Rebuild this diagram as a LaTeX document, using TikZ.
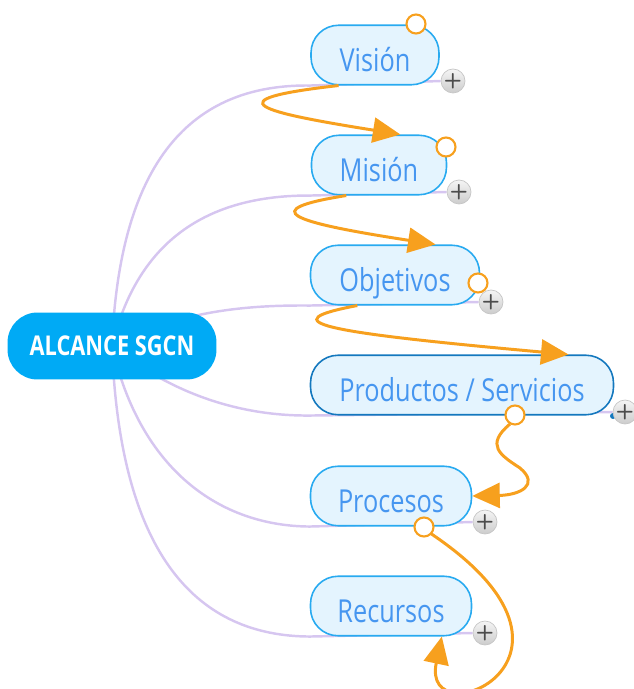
\documentclass[tikz,border=0pt]{standalone}
\usepackage{fontspec}
\setmainfont{Open Sans}
\newfontfamily\topicfont[FakeStretch=0.8]{Open Sans}
\usepackage{tikz}
\usetikzlibrary{shapes,arrows.meta,positioning,backgrounds}

\definecolor{topicfill}{RGB}{228,244,254}
\definecolor{topicline}{RGB}{40,170,240}
\definecolor{topictext}{RGB}{70,150,240}
\definecolor{rootblue}{RGB}{0,170,245}
\definecolor{branchlilac}{RGB}{214,198,240}
\definecolor{relorange}{RGB}{247,160,30}
\definecolor{selline}{RGB}{20,120,190}

\begin{document}
\begin{tikzpicture}[
    x=0.02cm, y=-0.02cm,
    root/.style={rectangle, rounded corners=0.6cm, fill=rootblue, text=white, minimum width=4.18cm, minimum height=1.34cm, align=center, font=\topicfont\fontsize{15.5}{18}\selectfont\bfseries},
    topic/.style={rectangle, rounded corners=0.55cm, draw=topicline, line width=0.9pt, fill=topicfill, text=topictext, minimum height=1.19cm, text height=18.5pt, text depth=0pt, align=center, font=\topicfont\fontsize{18}{21}\selectfont},
    plus/.style={circle, draw=gray!45, top color=gray!8, bottom color=gray!40, minimum size=0.48cm, inner sep=0pt, text=black!70, font=\sffamily\bfseries\large},
    handle/.style={circle, draw=relorange, line width=1.2pt, fill=white, minimum size=0.38cm, inner sep=0pt},
    branch/.style={draw=branchlilac, line width=1.4pt},
    relation/.style={draw=relorange, line width=1.7pt, -{Triangle[length=0.55cm,width=0.5cm]}},
]
    \useasboundingbox (0,0) rectangle (633,689);

    % Central topic
    \node[root] (root) at (112,346) {ALCANCE SGCN};

    % Subtopics
    \node[topic, minimum width=2.56cm] (vision) at (375,55) {Visión};
    \node[topic, minimum width=2.70cm] (mision) at (379,165) {Misión};
    \node[topic, minimum width=3.38cm] (objetivos) at (395,275) {Objetivos};
    \node[topic, minimum width=6.06cm, draw=selline] (productos) at (462,385) {Productos / Servicios};
    \node[topic, minimum width=3.22cm] (procesos) at (391,496) {Procesos};
    \node[topic, minimum width=3.22cm] (recursos) at (391,606) {Recursos};
    \node[circle, fill=selline, minimum size=0.12cm, inner sep=0pt] (seldot) at (613,416) {};

    % Expand buttons
    \node[plus] (pvis) at (453,81) {+};
    \node[plus] (pmis) at (459,192) {+};
    \node[plus] (pobj) at (491,302) {+};
    \node[plus] (pprod) at (625,412) {+};
    \node[plus] (pproc) at (485,522) {+};
    \node[plus] (prec) at (485,633) {+};

    % Branches
    \begin{scope}[on background layer]
    \draw[branch] (root.center) .. controls (120,150) and (200,84) .. (vision.south west) -- (pvis.west);
    \draw[branch] (root.center) .. controls (140,230) and (220,195) .. (mision.south west) -- (pmis.west);
    \draw[branch] (root.center) .. controls (180,310) and (250,305) .. (objetivos.south west) -- (pobj.west);
    \draw[branch] (root.center) .. controls (180,400) and (250,416) .. (productos.south west) -- (pprod.west);
    \draw[branch] (root.center) .. controls (140,470) and (220,526) .. (procesos.south west) -- (pproc.west);
    \draw[branch] (root.center) .. controls (120,560) and (200,636) .. (recursos.south west) -- (prec.west);
    \end{scope}

    % Relationships
    \draw[relation] (vision.-140) .. controls (210,100) and (260,112) .. (mision.55);
    \draw[relation] (mision.-137) .. controls (255,210) and (290,222) .. (objetivos.37);
    \draw[relation] (objetivos.-141) .. controls (270,322) and (320,332) .. (productos.16);
    \draw[relation] (510,424) .. controls (485,445) and (500,455) .. (520,468) .. controls (540,485) and (520,495) .. (procesos.east);
    \draw[relation] (430,533) .. controls (620,660) and (420,740) .. (recursos.-31);

    % Handles
    \node[handle] (h1) at (416,24) {};
    \node[handle] (h2) at (446,147) {};
    \node[handle] (h3) at (478,283) {};
    \node[handle] (h4) at (515,415) {};
    \node[handle] (h5) at (424,527) {};
\end{tikzpicture}
\end{document}
